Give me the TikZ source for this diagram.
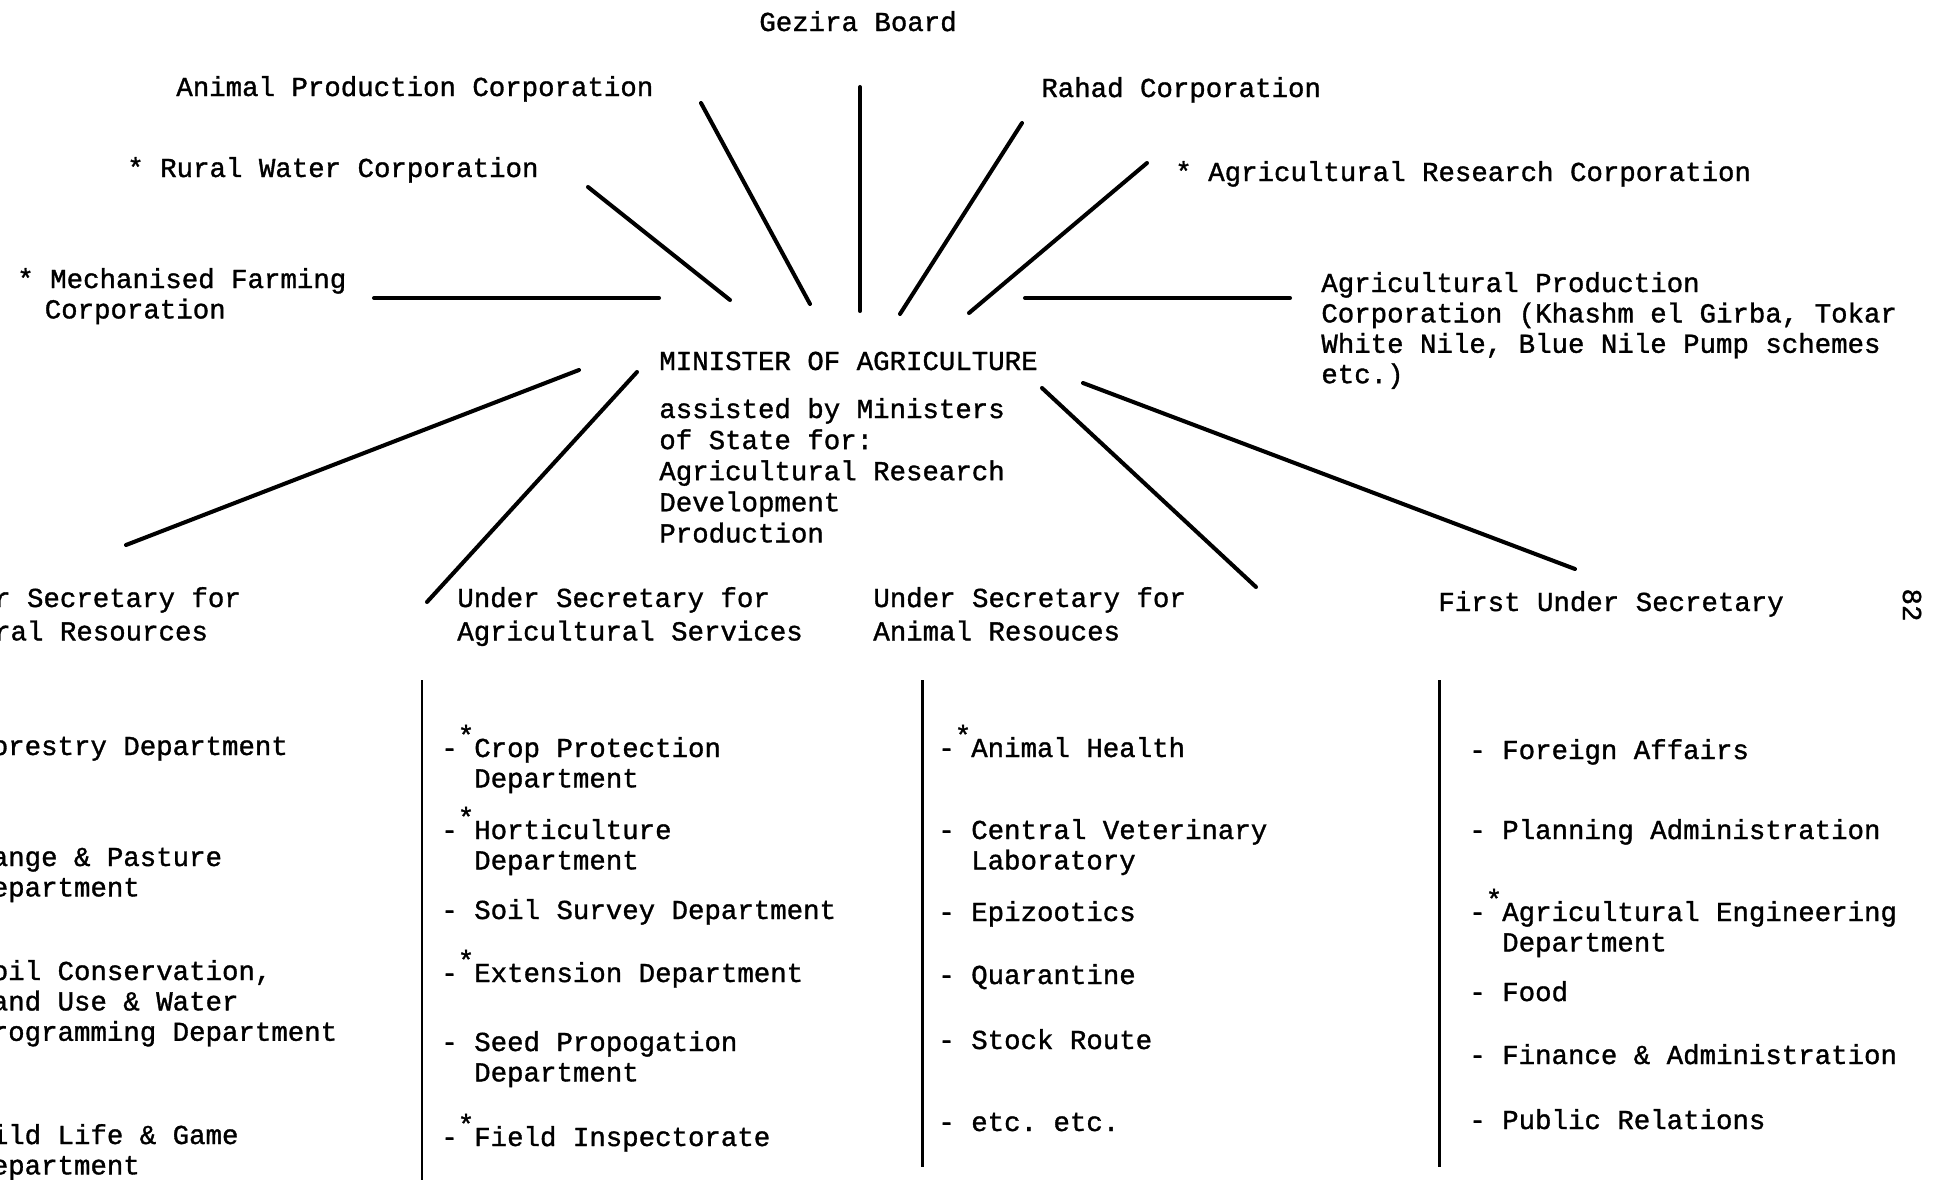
\documentclass[tikz,border=0pt]{standalone}
\usepackage{fontspec}
\setmonofont{Liberation Mono}[FakeBold=1.2]
\newcommand\marked{\raisebox{.45em}{*}}
\newcommand\lines[1]{\begin{tabular}[t]{@{}l@{}}#1\end{tabular}}
\begin{document}
\begin{tikzpicture}[x=0.02cm,y=-0.02cm,
    txt/.style={anchor=base west,inner sep=0pt,
        font=\ttfamily\fontsize{15.6}{17.3}\selectfont},
    spoke/.style={line width=2.3pt,line cap=round},
    bar/.style={line width=1.7pt}]
\useasboundingbox (0,0) rectangle (1935,1180);
\clip (0,0) rectangle (1935,1180);
% corporations round the minister
\node[txt] (gezira) at (759,31) {Gezira Board};
\node[txt] (animprod) at (176,96) {Animal Production Corporation};
\node[txt] (rural) at (127,177) {* Rural Water Corporation};
\node[txt] (mech) at (17,288) {\lines{* Mechanised Farming\\\hspace*{1em}Corporation}};
\node[txt] (rahad) at (1041,97) {Rahad Corporation};
\node[txt] (agres) at (1175,181) {* Agricultural Research Corporation};
\node[txt] (agprod) at (1321,292) {\lines{Agricultural Production\\Corporation (Khashm el Girba, Tokar\\White Nile, Blue Nile Pump schemes\\etc.)}};
% minister
\node[txt] (minister) at (659,370) {MINISTER OF AGRICULTURE};
\node[txt,font=\ttfamily\fontsize{15.6}{17.7}\selectfont] (ministate) at (659,418) {\lines{assisted by Ministers\\of State for:\\Agricultural Research\\Development\\Production}};
% under secretaries
\node[txt,font=\ttfamily\fontsize{15.6}{19}\selectfont] (usnat) at (-72,607) {\lines{Under Secretary for\\Natural Resources}};
\node[txt,font=\ttfamily\fontsize{15.6}{19}\selectfont] (usagri) at (457,607) {\lines{Under Secretary for\\Agricultural Services}};
\node[txt,font=\ttfamily\fontsize{15.6}{19}\selectfont] (usanim) at (873,607) {\lines{Under Secretary for\\Animal Resouces}};
\node[txt] (fus) at (1438,611) {First Under Secretary};
\node[txt,anchor=center,rotate=-90] (pageno) at (1912,605) {82};
% spokes
\foreach \n/\p/\q in {mech/{374,298}/{659,298}, rural/{588,187}/{730,300},
    animprod/{701,103}/{810,304}, gezira/{860,87}/{860,311},
    rahad/{1022,123}/{900,314}, agres/{1147,163}/{969,313},
    agprod/{1025,298}/{1290,298}, usnat/{126,545}/{579,370},
    usagri/{427,602}/{637,372}, usanim/{1256,587}/{1042,388},
    fus/{1575,569}/{1083,383}}
{
    \coordinate (\n-a) at (\p);
    \coordinate (\n-b) at (\q);
    \draw[spoke] (\n-a)--(\n-b);
}
% brackets under the secretaries
\foreach \n/\x/\b in {usagri/422/1185, usanim/922/1167, fus/1439/1167}
{
    \coordinate (\n-top) at (\x,680);
    \coordinate (\n-bot) at (\x,\b);
    \draw[bar] (\n-top)--(\n-bot);
}
% departments
\foreach \i/\y/\t in {1/755/{Forestry Department}, 2/866/{Range \& Pasture\\Department},
    3/980/{Soil Conservation,\\Land Use \& Water\\Programming Department},
    4/1144/{Wild Life \& Game\\Department}}
{
    \node[txt] (nat-\i) at (-25,\y) {\lines{\t}};
}
\foreach \i/\y/\t in {1/757/{-\marked Crop Protection\\\hphantom{xx}Department},
    2/839/{-\marked Horticulture\\\hphantom{xx}Department},
    3/919/{- Soil Survey Department}, 4/982/{-\marked Extension Department},
    5/1051/{- Seed Propogation\\\hphantom{xx}Department}, 6/1146/{-\marked Field Inspectorate}}
{
    \node[txt] (agri-\i) at (441,\y) {\lines{\t}};
}
\foreach \i/\y/\t in {1/757/{-\marked Animal Health},
    2/839/{- Central Veterinary\\\hphantom{xx}Laboratory},
    3/921/{- Epizootics}, 4/984/{- Quarantine}, 5/1049/{- Stock Route},
    6/1131/{- etc. etc.}}
{
    \node[txt] (anim-\i) at (938,\y) {\lines{\t}};
}
\foreach \i/\y/\t in {1/759/{- Foreign Affairs}, 2/839/{- Planning Administration},
    3/921/{-\marked Agricultural Engineering\\\hphantom{xx}Department},
    4/1001/{- Food}, 5/1064/{- Finance \& Administration}, 6/1129/{- Public Relations}}
{
    \node[txt] (first-\i) at (1469,\y) {\lines{\t}};
}
\end{tikzpicture}
\end{document}
